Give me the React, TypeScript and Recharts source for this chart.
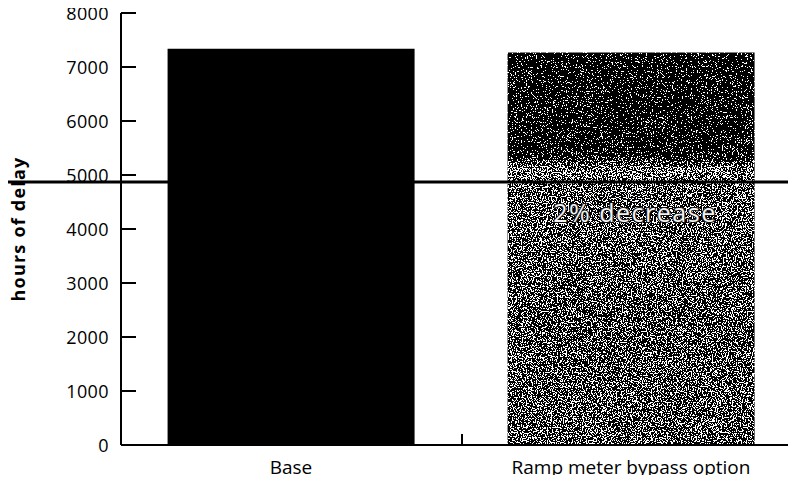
import React from "react";
import {
  BarChart,
  Bar,
  XAxis,
  YAxis,
  ReferenceLine,
  ReferenceDot,
  Cell,
} from "recharts";

const categories = ["Base", "Ramp meter bypass option"];
const delayHours = [7340, 7270];
const barColors = ["#000000", "url(#rampShade)"];
const barFilters = ["none", "url(#dither)"];
const yTicks = [0, 1000, 2000, 3000, 4000, 5000, 6000, 7000, 8000];
const referenceLevel = 4870;
const annotationText = "2% decrease";
const annotationLevel = 4300;

const data = categories.map((name, i) => ({ name, hours: delayHours[i] }));

const FONT = "'Open Sans', 'Liberation Sans', sans-serif";
const X_TICK_GAP = 14;

// y ticks: label on the left, short tick pointing into the plot
const YTick = (props: any) => {
  const { x, y, payload } = props;
  return (
    <g>
      <text
        x={x}
        y={y}
        dy="0.4em"
        textAnchor="end"
        fontSize={18}
        letterSpacing={0.4}
        fontFamily={FONT}
        fill="#000"
      >
        {payload.value}
      </text>
      <line x1={x + 12} x2={x + 27} y1={y} y2={y} stroke="#000" strokeWidth={2} />
    </g>
  );
};

// x ticks: label under the bar, plus a short divider tick between the two groups
const XTick = (props: any) => {
  const { x, y, payload, index, width, visibleTicksCount } = props;
  const axisY = y - X_TICK_GAP;
  const half = payload.offset || width / (visibleTicksCount || 2) / 2;
  return (
    <g>
      <text x={x} y={axisY + 29} textAnchor="middle" fontSize={19} fontFamily={FONT} fill="#000">
        {payload.value}
      </text>
      {index === 0 && (
        <line x1={x + half + 1} x2={x + half + 1} y1={axisY - 11} y2={axisY} stroke="#000" strokeWidth={2} />
      )}
    </g>
  );
};

// reference line runs across the whole figure, not only the plot area
const WideLine = (props: any) => {
  const { y1, x2 } = props;
  return <line x1={0} x2={x2} y1={y1} y2={y1} stroke="#000" strokeWidth={3} />;
};

const App = () => {
  return (
    <div style={{ margin: -8, width: 796, height: 483, overflow: "hidden", background: "#fff" }}>
      <BarChart
        width={801}
        height={483}
        data={data}
        margin={{ top: 13, right: 0, bottom: 0, left: 0 }}
        barCategoryGap="13.7%"
      >
        <defs>
          <linearGradient id="rampShade" x1="0" y1="0" x2="0" y2="1">
            <stop offset="0%" stopColor="#222222" />
            <stop offset="26%" stopColor="#2a2a2a" />
            <stop offset="30%" stopColor="#808080" />
            <stop offset="36%" stopColor="#686868" />
            <stop offset="65%" stopColor="#5e5e5e" />
            <stop offset="100%" stopColor="#646464" />
          </linearGradient>
          <filter id="dither" x="0" y="0" width="1" height="1" colorInterpolationFilters="sRGB">
            <feTurbulence type="fractalNoise" baseFrequency="0.8" numOctaves="2" seed="3" result="noise" />
            <feColorMatrix
              in="noise"
              type="matrix"
              values="2.5 0 0 0 -0.75  2.5 0 0 0 -0.75  2.5 0 0 0 -0.75  0 0 0 0 1"
              result="grain"
            />
            <feComposite in="SourceGraphic" in2="grain" operator="arithmetic" k1="0" k2="1" k3="1" k4="-0.5" result="mix" />
            <feComponentTransfer in="mix" result="bw">
              <feFuncR type="discrete" tableValues="0 1" />
              <feFuncG type="discrete" tableValues="0 1" />
              <feFuncB type="discrete" tableValues="0 1" />
              <feFuncA type="table" tableValues="1 1" />
            </feComponentTransfer>
            <feComposite in="bw" in2="SourceGraphic" operator="in" />
          </filter>
        </defs>
        <XAxis
          dataKey="name"
          height={38}
          axisLine={{ stroke: "#000", strokeWidth: 2 }}
          tickLine={false}
          tickSize={0}
          tickMargin={X_TICK_GAP}
          tick={<XTick />}
        />
        <YAxis
          width={121}
          domain={[0, 8000]}
          ticks={yTicks}
          axisLine={{ stroke: "#000", strokeWidth: 2 }}
          tickLine={false}
          tickSize={0}
          tickMargin={12}
          tick={<YTick />}
          label={{
            value: "hours of delay",
            angle: -90,
            position: "insideLeft",
            offset: 19,
            style: {
              textAnchor: "middle",
              fontSize: 18,
              fontWeight: 700,
              letterSpacing: 1.2,
              fontFamily: FONT,
              fill: "#000",
            },
          }}
        />
        <Bar dataKey="hours" isAnimationActive={false}>
          {data.map((d, i) => (
            <Cell key={d.name} fill={barColors[i]} filter={barFilters[i]} />
          ))}
        </Bar>
        <ReferenceLine y={referenceLevel} shape={<WideLine />} ifOverflow="extendDomain" />
        <ReferenceDot
          x={categories[1]}
          y={annotationLevel}
          r={0}
          stroke="none"
          fill="none"
          label={{
            value: annotationText,
            position: "center",
            dx: 4,
            style: {
              fontSize: 25,
              letterSpacing: 1.5,
              fontFamily: FONT,
              fill: "#f2f2f2",
              stroke: "#111",
              strokeWidth: 2.2,
              paintOrder: "stroke",
            },
          }}
        />
      </BarChart>
    </div>
  );
};

export default App;
